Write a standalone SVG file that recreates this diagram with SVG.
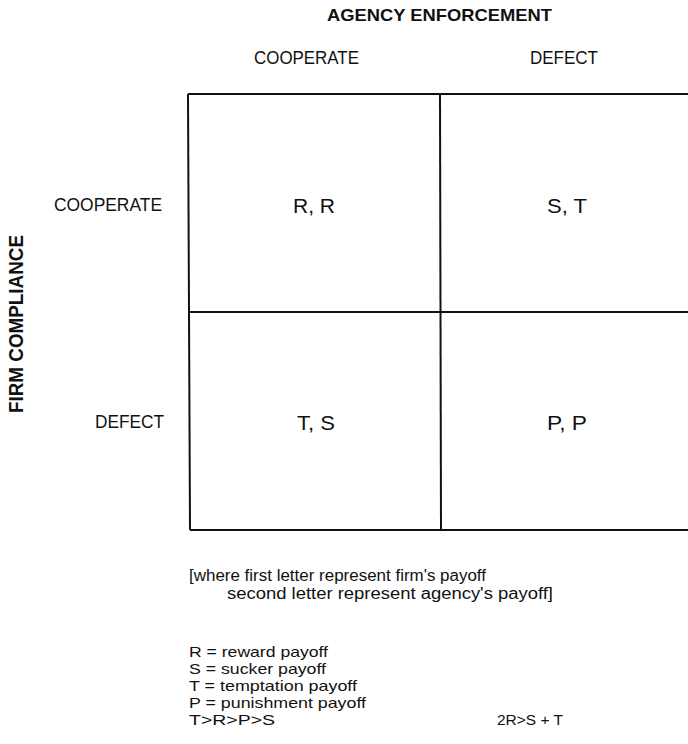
<svg xmlns="http://www.w3.org/2000/svg" width="688" height="744" viewBox="0 0 688 744">
<style>
text{font-family:"Liberation Sans",Arial,sans-serif;fill:#111;}
.title{font-weight:bold;font-size:17px;}
.hdr{font-size:19px;}
.cell{font-size:21px;text-anchor:middle;}
.body{font-size:16px;}
.legend{font-size:15px;}
.grid{stroke:#111;stroke-width:2;fill:none;}
</style>
<rect width="688" height="744" fill="#fff"/>
<g id="labels">
<text class="title" x="327" y="21" textLength="225" lengthAdjust="spacingAndGlyphs">AGENCY ENFORCEMENT</text>
<text class="hdr" x="254" y="64" textLength="105" lengthAdjust="spacingAndGlyphs">COOPERATE</text>
<text class="hdr" x="530" y="64" textLength="68" lengthAdjust="spacingAndGlyphs">DEFECT</text>
<text class="title" transform="translate(23,413) rotate(-90)" x="0" y="0" style="font-size:21px" textLength="178" lengthAdjust="spacingAndGlyphs">FIRM COMPLIANCE</text>
<text class="hdr" x="54" y="211" textLength="108" lengthAdjust="spacingAndGlyphs">COOPERATE</text>
<text class="hdr" x="95" y="428" textLength="69" lengthAdjust="spacingAndGlyphs">DEFECT</text>
</g>
<g id="grid" class="grid">
<path d="M188,94 H688"/>
<path d="M188,312 H688"/>
<path d="M190,530 H688"/>
<path d="M188,94 L190,530"/>
<path d="M440,94 L441,530"/>
</g>
<g id="cell-cc"><text class="cell" x="314" y="213" textLength="42" lengthAdjust="spacingAndGlyphs">R, R</text></g>
<g id="cell-cd"><text class="cell" x="567" y="213" textLength="40" lengthAdjust="spacingAndGlyphs">S, T</text></g>
<g id="cell-dc"><text class="cell" x="316" y="430" textLength="38" lengthAdjust="spacingAndGlyphs">T, S</text></g>
<g id="cell-dd"><text class="cell" x="567" y="430" textLength="40" lengthAdjust="spacingAndGlyphs">P, P</text></g>
<g id="notes">
<text class="body" x="189" y="581" textLength="297" lengthAdjust="spacingAndGlyphs">[where first letter represent firm's payoff</text>
<text class="body" x="227" y="599" textLength="326" lengthAdjust="spacingAndGlyphs">second letter represent agency's payoff]</text>
<text class="legend" x="189" y="657" textLength="139" lengthAdjust="spacingAndGlyphs">R = reward payoff</text>
<text class="legend" x="189" y="674" textLength="137" lengthAdjust="spacingAndGlyphs">S = sucker payoff</text>
<text class="legend" x="189" y="691" textLength="168" lengthAdjust="spacingAndGlyphs">T = temptation payoff</text>
<text class="legend" x="189" y="708" textLength="177" lengthAdjust="spacingAndGlyphs">P = punishment payoff</text>
<text class="legend" x="189" y="725" textLength="86" lengthAdjust="spacingAndGlyphs">T&gt;R&gt;P&gt;S</text>
<text class="legend" x="497" y="725" textLength="66" lengthAdjust="spacingAndGlyphs">2R&gt;S + T</text>
</g>
</svg>
